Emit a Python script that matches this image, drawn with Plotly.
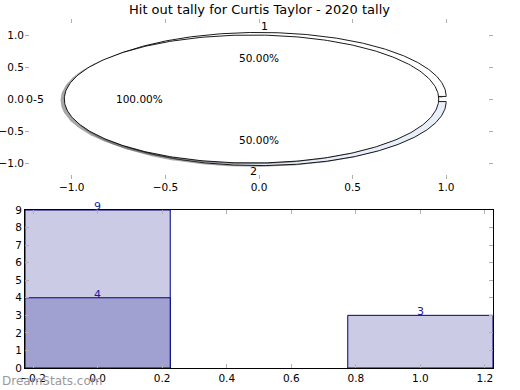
import numpy as np
import plotly.graph_objects as go
from plotly.subplots import make_subplots

title = "Hit out tally for Curtis Taylor - 2020 tally"

# outer pie (two slices)
pie_a_labels = ["1", "2"]
pie_a_values = [1, 1]
pie_a_colors = ["#ffffff", "#e9eefb"]
# inner pie (one slice)
pie_b_labels = ["0-5"]
pie_b_values = [1]
pie_b_colors = ["#ffffff"]
explode = 0.04

# bars
bar_x = [0, 1]
bar_total = [9, 3]
bar_sub_x = [0]
bar_sub = [4]

fig = make_subplots(rows=2, cols=1)
fig.update_layout(
    width=520, height=390,
    margin=dict(l=25, r=27, t=19, b=22, autoexpand=False),
    paper_bgcolor="white", plot_bgcolor="white",
    showlegend=False,
    font=dict(family="DejaVu Sans", size=10, color="black"),
)
fig.update_layout(
    xaxis=dict(domain=[0, 1]), yaxis=dict(domain=[0.5415, 1.0]),
    xaxis2=dict(domain=[0, 1]), yaxis2=dict(domain=[0, 0.4527]),
)

annotations = []


def draw_pie(labels, values, colors):
    total = float(sum(values))
    start = 0.0
    for lab, val, col in zip(labels, values, colors):
        frac = val / total
        a0 = start
        a1 = start + 360.0 * frac
        mid = np.deg2rad((a0 + a1) / 2)
        cx = explode * np.cos(mid)
        cy = explode * np.sin(mid)
        th = np.deg2rad(np.linspace(a0, a1, 361))
        if frac < 0.999:
            px = np.concatenate([[cx], cx + np.cos(th), [cx]])
            py = np.concatenate([[cy], cy + np.sin(th), [cy]])
        else:
            px = cx + np.cos(th)
            py = cy + np.sin(th)
        # shadow
        fig.add_trace(go.Scatter(x=px - 0.02, y=py - 0.02, mode="lines", fill="toself",
                                 fillcolor="rgba(77,77,77,0.5)", line=dict(width=0),
                                 hoverinfo="skip"), row=1, col=1)
        fig.add_trace(go.Scatter(x=px, y=py, mode="lines", fill="toself",
                                 fillcolor=col, line=dict(color="black", width=0.9),
                                 hoverinfo="skip"), row=1, col=1)
        lx = cx + 1.1 * np.cos(mid)
        ly = cy + 1.1 * np.sin(mid)
        xanchor = "right" if np.cos(mid) < 0 else "left"
        annotations.append(dict(x=lx, y=ly, xref="x", yref="y", text=lab, showarrow=False,
                                xanchor=xanchor, yanchor="middle",
                                font=dict(size=11, color="black")))
        annotations.append(dict(x=cx + 0.6 * np.cos(mid), y=cy + 0.6 * np.sin(mid),
                                xref="x", yref="y", text="%.2f%%" % (100 * frac),
                                showarrow=False, xanchor="center", yanchor="middle",
                                font=dict(size=10.5, color="black")))
        start = a1


draw_pie(pie_a_labels, pie_a_values, pie_a_colors)
draw_pie(pie_b_labels, pie_b_values, pie_b_colors)

fig.add_trace(go.Bar(x=bar_x, y=bar_total, width=0.45, marker=dict(color="#cbcbe5",
                     line=dict(color="#000080", width=1)), hoverinfo="skip"), row=2, col=1)
fig.add_trace(go.Bar(x=bar_sub_x, y=bar_sub, width=0.45, marker=dict(color="#a1a1d1",
                     line=dict(color="#000080", width=1)), hoverinfo="skip"), row=2, col=1)
fig.update_layout(barmode="overlay")

for xs, ys in ((bar_x, bar_total), (bar_sub_x, bar_sub)):
    for xv, yv in zip(xs, ys):
        annotations.append(dict(x=xv, y=yv, xref="x2", yref="y2", text=str(yv),
                                showarrow=False, xanchor="center", yanchor="bottom",
                                yshift=-5, font=dict(size=11, color="#1a1aa0")))

annotations.append(dict(x=0.5, y=1.0, xref="paper", yref="paper", yshift=19,
                        text=title, showarrow=False, xanchor="center", yanchor="top",
                        font=dict(size=13, color="black")))
annotations.append(dict(x=-25 / 468.0, y=-13 / 349.0, xref="paper", yref="paper",
                        xanchor="left", yanchor="middle", text="DreamStats.com",
                        showarrow=False, font=dict(size=12, color="#9a9a9a")))
fig.update_layout(annotations=annotations)

tick_common = dict(ticks="inside", ticklen=4, tickcolor="#b0b0b0", tickwidth=1,
                   showgrid=False, zeroline=False, tickfont=dict(size=10.5), automargin=False)
fig.update_xaxes(range=[-1.25, 1.25], tickvals=[-1.0, -0.5, 0.0, 0.5, 1.0], tickformat=".1f",
                 showline=False, mirror="allticks", row=1, col=1, **tick_common)
fig.update_yaxes(range=[-1.25, 1.25], tickvals=[-1.0, -0.5, 0.0, 0.5, 1.0], tickformat=".1f",
                 showline=False, mirror="allticks", row=1, col=1, **tick_common)
fig.update_xaxes(range=[-0.225, 1.225], tickvals=[-0.2, 0.0, 0.2, 0.4, 0.6, 0.8, 1.0, 1.2],
                 tickformat=".1f", showline=True, linecolor="black", linewidth=1,
                 mirror="allticks", row=2, col=1, **tick_common)
fig.update_yaxes(range=[0, 9], dtick=1, showline=True, linecolor="black", linewidth=1,
                 mirror="allticks", row=2, col=1, **tick_common)

fig.write_html("out.html", config={"displayModeBar": False},
               post_script="document.body.style.margin='0px';")
